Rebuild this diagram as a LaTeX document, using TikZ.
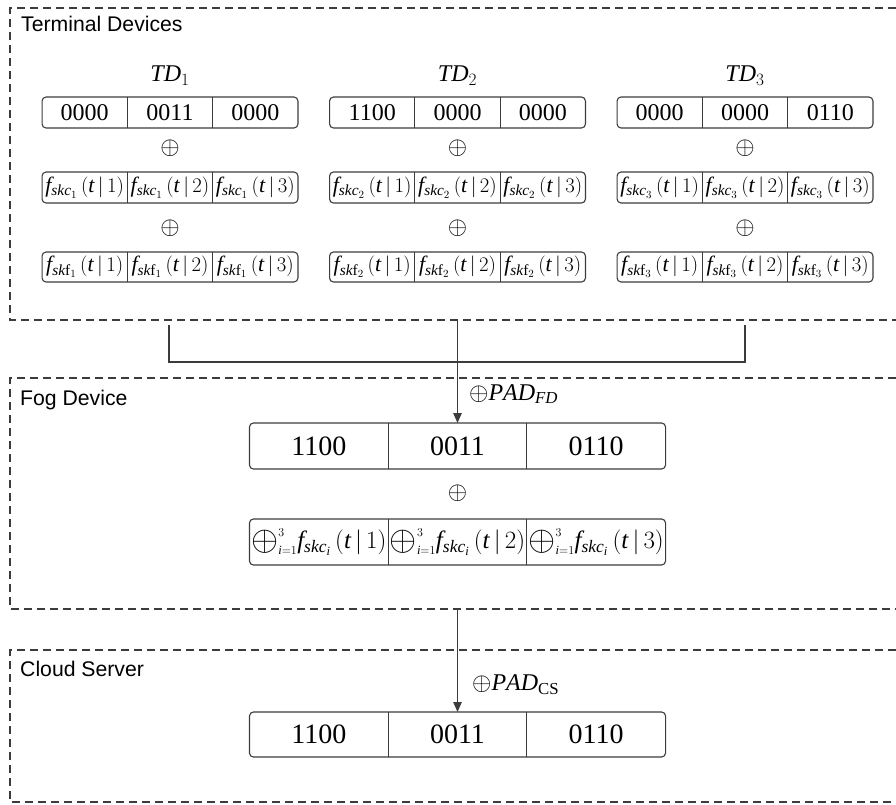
\documentclass[tikz,border=0pt]{standalone}
\usepackage{amsmath}
\usepackage{graphicx}
\usepackage{fontspec}
\setmainfont{Liberation Serif}
\newfontfamily\sflabel{Liberation Sans}
\usetikzlibrary{arrows.meta}
\definecolor{ln}{HTML}{3C3C3C}
\tikzset{
  cell/.style={inner sep=0pt, outer sep=0pt},
  boxline/.style={draw=ln, line width=1.1pt},
  frame/.style={draw=ln, line width=1.3pt, dash pattern=on 8pt off 5pt},
  wire/.style={draw=ln, line width=1.2pt},
  secname/.style={font=\sflabel\fontsize{21.2}{25}\selectfont, inner sep=0pt, anchor=base west},
  tdname/.style={font=\fontsize{24}{28}\selectfont, inner sep=0pt, anchor=base},
  xorsym/.style={font=\fontsize{25}{29}\selectfont, inner sep=0pt},
  padlbl/.style={font=\fontsize{24}{28}\selectfont, inner sep=0pt, anchor=base west},
}
\newcommand\myrow[8]{%
  \node[cell, minimum width=#4, minimum height=#5] (#1-2) at (#2,#3) {#7};
  \node[cell, minimum width=#4, minimum height=#5, anchor=east] (#1-1) at (#1-2.west) {#6};
  \node[cell, minimum width=#4, minimum height=#5, anchor=west] (#1-3) at (#1-2.east) {#8};
  \draw[boxline, rounded corners=4pt] (#1-1.north west) rectangle (#1-3.south east);
  \draw[boxline] (#1-1.north east) -- (#1-1.south east);
  \draw[boxline] (#1-3.north west) -- (#1-3.south west);
}
\newcommand\fc[2]{$\mathit{f}_{\mathit{skc}_{#1}}\,(\mathit{t}\,|\,#2)$}
\newcommand\ff[2]{$\mathit{f}_{\mathit{sk}\mathrm{f}_{#1}}\,(\mathit{t}\,|\,#2)$}
\newcommand\bigxor{\raisebox{-1.5pt}{\scalebox{1.4}{$\oplus$}}}
\newcommand\fsum[1]{${\bigxor}_{\scriptscriptstyle\mathit{i}=1}^{\scriptscriptstyle 3}\mathit{f}_{\mathit{skc}_{\mathit{i}}}\,(\mathit{t}\,|\,#1)$}
\begin{document}
\begin{tikzpicture}[x=1pt,y=-1pt]
\useasboundingbox (0,0) rectangle (896,805);
% section frames (open at right)
\draw[frame] (896,8) -- (10,8) -- (10,320) -- (896,320);
\draw[frame] (896,378) -- (10,378) -- (10,609) -- (896,609);
\draw[frame] (896,650) -- (10,650) -- (10,802) -- (896,802);
\node[secname] (lblTD) at (21,31.5) {Terminal Devices};
\node[secname] (lblFD) at (20,405) {Fog Device};
\node[secname] (lblCS) at (20,676) {Cloud Server};
% terminal devices
\foreach \cx/\k in {170/1,457.5/2,745/3}{
  \node[tdname] (td\k) at (\cx,82) {$\mathit{TD}_{\k}$};
  \node[xorsym] (xa\k) at (\cx,148) {$\oplus$};
  \node[xorsym] (xb\k) at (\cx,228) {$\oplus$};
}
\begingroup
\fontsize{24}{28}\selectfont
\myrow{a1}{170}{112.5}{85.3}{31}{0000}{0011}{0000}
\myrow{a2}{457.5}{112.5}{85.3}{31}{1100}{0000}{0000}
\myrow{a3}{745}{112.5}{85.3}{31}{0000}{0000}{0110}
\endgroup
\begingroup
\fontsize{22}{26}\selectfont
\myrow{b1}{170}{187.5}{85.3}{31}{\fc{1}{1}}{\fc{1}{2}}{\fc{1}{3}}
\myrow{b2}{457.5}{187.5}{85.3}{31}{\fc{2}{1}}{\fc{2}{2}}{\fc{2}{3}}
\myrow{b3}{745}{187.5}{85.3}{31}{\fc{3}{1}}{\fc{3}{2}}{\fc{3}{3}}
\myrow{c1}{170}{267}{85.3}{30}{\ff{1}{1}}{\ff{1}{2}}{\ff{1}{3}}
\myrow{c2}{457.5}{267}{85.3}{30}{\ff{2}{1}}{\ff{2}{2}}{\ff{2}{3}}
\myrow{c3}{745}{267}{85.3}{30}{\ff{3}{1}}{\ff{3}{2}}{\ff{3}{3}}
\endgroup
% fog device
\begingroup
\fontsize{28}{32}\selectfont
\myrow{fa}{457.5}{446}{138.7}{46}{1100}{0011}{0110}
\myrow{ca}{457.5}{734.5}{138.7}{45}{1100}{0011}{0110}
\endgroup
\node[xorsym] (xf) at (457.5,493) {$\oplus$};
\begingroup
\fontsize{25}{29}\selectfont
\myrow{fb}{457.5}{542}{138.7}{46}{\fsum{1}}{\fsum{2}}{\fsum{3}}
\endgroup
% connectors
\coordinate (tdout) at (457.5,320);
\coordinate (jl) at (169,325);
\coordinate (jr) at (745,325);
\coordinate (fdout) at (457.5,609);
\draw[wire] (jl) |- (457.5,362) -| (jr);
\draw[wire, -{Triangle[length=10pt,width=8.5pt]}] (tdout) -- (fa-2.north);
\draw[wire, -{Triangle[length=10pt,width=8.5pt]}] (fdout) -- (ca-2.north);
\node[padlbl] (padfd) at (469,400) {$\oplus\mathit{PAD}_{\mathit{FD}}$};
\node[padlbl] (padcs) at (472,690.5) {$\oplus\mathit{PAD}_{\mathrm{CS}}$};
\end{tikzpicture}
\end{document}
